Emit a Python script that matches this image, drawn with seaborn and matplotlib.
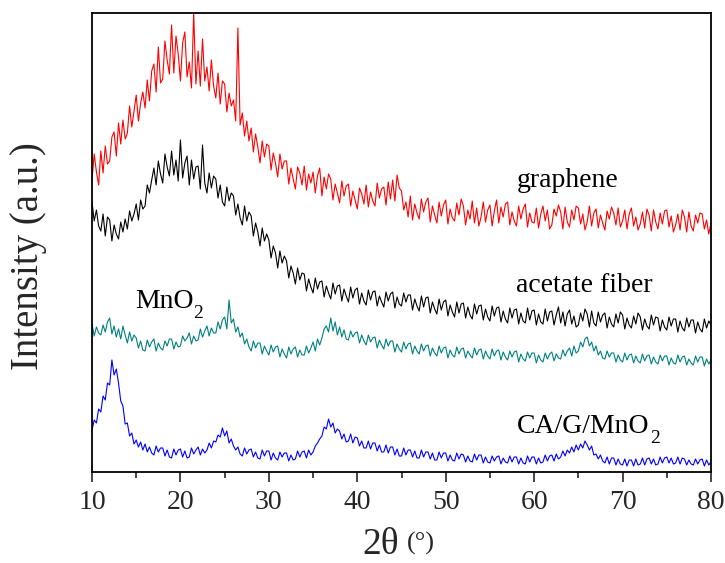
import numpy as np
import pandas as pd
import seaborn as sns
import matplotlib.pyplot as plt
from matplotlib.ticker import MultipleLocator

# XRD patterns, 2theta = 10..80 deg, step 0.25 deg (arb. units)
graphene = [
    292, 318, 300, 287, 321, 299, 326, 308, 311, 335, 340, 316, 349, 328, 352, 333,
    339, 366, 345, 361, 377, 351, 369, 380, 364, 392, 371, 401, 408, 380, 425, 389,
    393, 431, 412, 398, 447, 399, 436, 418, 391, 429, 440, 395, 410, 384, 459, 388,
    421, 386, 433, 391, 405, 381, 412, 386, 374, 399, 368, 391, 388, 360, 379, 366,
    372, 351, 444, 347, 359, 336, 351, 331, 344, 320, 338, 325, 309, 331, 315, 328,
    326, 302, 319, 309, 295, 318, 303, 311, 311, 288, 304, 293, 283, 305, 299, 287,
    306, 282, 298, 289, 300, 279, 296, 304, 276, 295, 283, 298, 293, 272, 288, 279,
    269, 291, 276, 286, 288, 266, 281, 272, 263, 284, 278, 268, 287, 265, 280, 271,
    266, 289, 274, 283, 285, 267, 290, 273, 292, 271, 297, 284, 281, 262, 270, 255,
    276, 252, 268, 259, 253, 273, 260, 270, 274, 250, 266, 257, 249, 270, 256, 267,
    272, 248, 263, 254, 251, 269, 257, 273, 266, 247, 262, 253, 271, 249, 264, 246,
    255, 270, 250, 262, 267, 246, 261, 272, 249, 265, 255, 268, 270, 247, 260, 251,
    246, 266, 253, 263, 268, 245, 259, 250, 249, 264, 244, 258, 266, 251, 262, 243,
    247, 263, 256, 267, 260, 243, 265, 250, 245, 262, 252, 266, 264, 248, 258, 242,
    250, 266, 246, 259, 263, 244, 257, 249, 242, 261, 253, 265, 259, 247, 264, 245,
    251, 262, 243, 258, 264, 246, 255, 242, 248, 260, 244, 263, 257, 241, 262, 250,
    243, 259, 248, 261, 262, 245, 256, 240, 247, 258, 242, 262, 255, 240, 260, 246,
    241, 257, 249, 259, 258, 243, 252, 238, 249,
]
acetate = [
    270, 251, 262, 246, 241, 258, 236, 255, 252, 231, 247, 238, 233, 250, 240, 253,
    243, 261, 251, 258, 268, 252, 272, 263, 266, 287, 279, 292, 304, 287, 311, 298,
    289, 318, 305, 296, 321, 297, 312, 291, 332, 294, 309, 316, 287, 312, 293, 305,
    306, 283, 327, 289, 279, 299, 284, 296, 293, 274, 287, 270, 266, 285, 271, 279,
    276, 257, 268, 254, 247, 266, 251, 260, 256, 236, 249, 240, 226, 244, 231, 238,
    232, 214, 226, 219, 204, 221, 209, 216, 211, 194, 206, 199, 188, 204, 192, 199,
    198, 181, 193, 185, 179, 194, 183, 190, 191, 175, 186, 179, 173, 189, 178, 186,
    187, 171, 183, 176, 170, 185, 174, 182, 184, 168, 179, 171, 167, 182, 172, 180,
    181, 166, 176, 170, 165, 180, 171, 178, 180, 164, 175, 168, 166, 179, 170, 177,
    177, 162, 173, 166, 161, 176, 165, 174, 175, 159, 170, 163, 158, 173, 162, 170,
    172, 156, 167, 160, 155, 170, 159, 168, 169, 154, 165, 157, 153, 168, 158, 166,
    167, 152, 163, 155, 151, 166, 156, 164, 165, 150, 161, 153, 149, 164, 154, 162,
    163, 148, 159, 151, 149, 164, 152, 161, 162, 147, 158, 150, 148, 163, 151, 160,
    161, 147, 157, 165, 149, 160, 146, 158, 162, 148, 156, 145, 147, 159, 151, 163,
    158, 145, 161, 149, 146, 160, 150, 157, 159, 144, 155, 148, 145, 158, 149, 160,
    157, 143, 154, 147, 144, 156, 148, 159, 155, 142, 153, 146, 143, 157, 147, 155,
    154, 141, 152, 145, 142, 155, 146, 153, 153, 140, 151, 144, 141, 154, 145, 152,
    152, 139, 150, 143, 140, 153, 144, 151, 147,
]
mno2 = [
    148, 136, 145, 139, 137, 147, 140, 150, 154, 138, 146, 135, 143, 133, 146, 137,
    129, 140, 131, 137, 134, 124, 131, 122, 121, 132, 125, 130, 133, 121, 129, 124,
    122, 131, 126, 133, 133, 123, 130, 125, 126, 136, 131, 134, 139, 128, 136, 131,
    132, 143, 135, 141, 146, 136, 144, 139, 139, 150, 143, 152, 155, 143, 172, 149,
    153, 140, 145, 135, 139, 128, 133, 125, 121, 131, 124, 129, 129, 118, 126, 121,
    117, 127, 120, 125, 126, 115, 123, 118, 114, 125, 118, 123, 125, 115, 122, 117,
    117, 126, 119, 124, 130, 121, 133, 127, 134, 143, 146, 140, 154, 141, 150, 137,
    145, 135, 142, 133, 132, 141, 135, 139, 140, 129, 137, 131, 127, 137, 130, 134,
    135, 124, 132, 127, 123, 133, 126, 131, 131, 120, 128, 123, 120, 130, 123, 128,
    129, 118, 126, 121, 118, 128, 121, 126, 127, 116, 124, 119, 116, 126, 119, 124,
    125, 114, 122, 117, 115, 125, 118, 123, 124, 114, 121, 117, 114, 124, 117, 122,
    123, 113, 121, 116, 113, 123, 116, 121, 122, 112, 120, 115, 112, 121, 115, 120,
    121, 110, 118, 113, 111, 120, 114, 119, 119, 109, 117, 112, 110, 119, 113, 118,
    120, 111, 118, 114, 113, 122, 116, 121, 124, 116, 126, 119, 121, 130, 125, 133,
    135, 126, 130, 121, 126, 117, 121, 114, 113, 121, 115, 119, 119, 110, 117, 112,
    110, 119, 112, 117, 118, 109, 116, 111, 109, 118, 111, 116, 117, 108, 115, 110,
    108, 117, 111, 116, 116, 107, 114, 109, 108, 117, 110, 115, 116, 107, 113, 109,
    107, 116, 110, 115, 115, 106, 113, 108, 112,
]
ca_g_mno2 = [
    42, 52, 49, 63, 60, 76, 72, 89, 87, 112, 97, 103, 89, 71, 66, 48,
    49, 36, 39, 28, 32, 25, 30, 22, 28, 20, 25, 19, 17, 26, 20, 24,
    24, 16, 22, 15, 14, 23, 17, 22, 23, 15, 21, 14, 15, 24, 18, 22,
    25, 17, 23, 19, 22, 29, 24, 31, 30, 37, 35, 44, 36, 41, 29, 33,
    26, 22, 25, 18, 16, 24, 18, 22, 23, 15, 20, 14, 13, 22, 16, 21,
    21, 12, 19, 14, 12, 20, 15, 19, 19, 11, 17, 12, 13, 21, 15, 20,
    21, 14, 22, 17, 20, 26, 29, 33, 36, 45, 43, 53, 45, 49, 39, 43,
    41, 33, 38, 30, 31, 38, 29, 35, 34, 26, 31, 24, 24, 31, 23, 29,
    29, 21, 27, 20, 20, 27, 19, 25, 25, 17, 23, 16, 16, 24, 17, 22,
    22, 15, 21, 14, 14, 22, 15, 20, 20, 13, 19, 12, 12, 20, 14, 19,
    19, 11, 17, 12, 11, 19, 13, 18, 17, 10, 16, 11, 10, 18, 12, 17,
    17, 9, 15, 10, 9, 16, 11, 15, 16, 8, 14, 10, 9, 16, 10, 15,
    15, 8, 14, 9, 8, 16, 10, 15, 15, 8, 14, 9, 10, 17, 11, 16,
    17, 11, 18, 13, 15, 21, 16, 22, 19, 25, 20, 27, 22, 28, 24, 31,
    27, 22, 26, 17, 18, 13, 17, 11, 9, 15, 8, 14, 14, 7, 13, 8,
    7, 13, 6, 12, 12, 6, 13, 7, 8, 14, 7, 13, 14, 8, 13, 7,
    8, 15, 9, 14, 15, 9, 14, 8, 9, 15, 8, 14, 13, 7, 12, 8,
    7, 13, 8, 12, 13, 6, 12, 7, 10,
]

series = [
    (graphene, '#ff0000'),
    (acetate, '#000000'),
    (mno2, '#008080'),
    (ca_g_mno2, '#0000ff'),
]

# curve names, with the subscript "2" written as its own smaller text
names = ['graphene', 'acetate fiber', 'MnO', 'CA/G/MnO']
name_pos = [(58.06, 285), (57.95, 180), (14.86, 164), (58.06, 39)]
sub_pos = {2: (21.45, 154), 3: (73.15, 29)}

sns.set_style('ticks')
plt.rcParams['font.family'] = ['Liberation Serif', 'DejaVu Serif']

fig = plt.figure(figsize=(7.25, 5.63), dpi=100)
ax = fig.add_axes([92 / 725, 91 / 563, 619 / 725, 459 / 563])

for vals, col in series:
    df = pd.DataFrame({'theta': np.linspace(10, 80, len(vals)), 'I': vals})
    sns.lineplot(data=df, x='theta', y='I', color=col, lw=0.8, ax=ax)

for i, (txt, (x, y)) in enumerate(zip(names, name_pos)):
    ax.text(x, y, txt, fontsize=20, color='black', ha='left', va='baseline')
    if i in sub_pos:
        sx, sy = sub_pos[i]
        ax.text(sx, sy, '2', fontsize=14, color='black', ha='left', va='baseline')

ax.set_xlim(10, 80)
ax.set_ylim(0, 459)
ax.xaxis.set_major_locator(MultipleLocator(10))
ax.xaxis.set_minor_locator(MultipleLocator(5))
ax.set_yticks([])
ax.tick_params(axis='x', which='major', direction='out', length=7, width=1.2,
               labelsize=20, pad=6, top=False)
ax.tick_params(axis='x', which='minor', direction='out', length=4, width=1.2, top=False)
for sp in ax.spines.values():
    sp.set_visible(True)
    sp.set_linewidth(1.3)
    sp.set_color('black')

ax.set_xlabel('')
ax.set_ylabel('Intensity (a.u.)', fontsize=28)
ax.yaxis.set_label_coords(-0.073, 0.47)
fig.text(362 / 725, 9 / 563, '2θ', fontsize=27, ha='left', va='baseline')
fig.text(407 / 725, 13 / 563, '(°)', fontsize=19, ha='left', va='baseline')

fig.savefig('out.png', dpi=100)
